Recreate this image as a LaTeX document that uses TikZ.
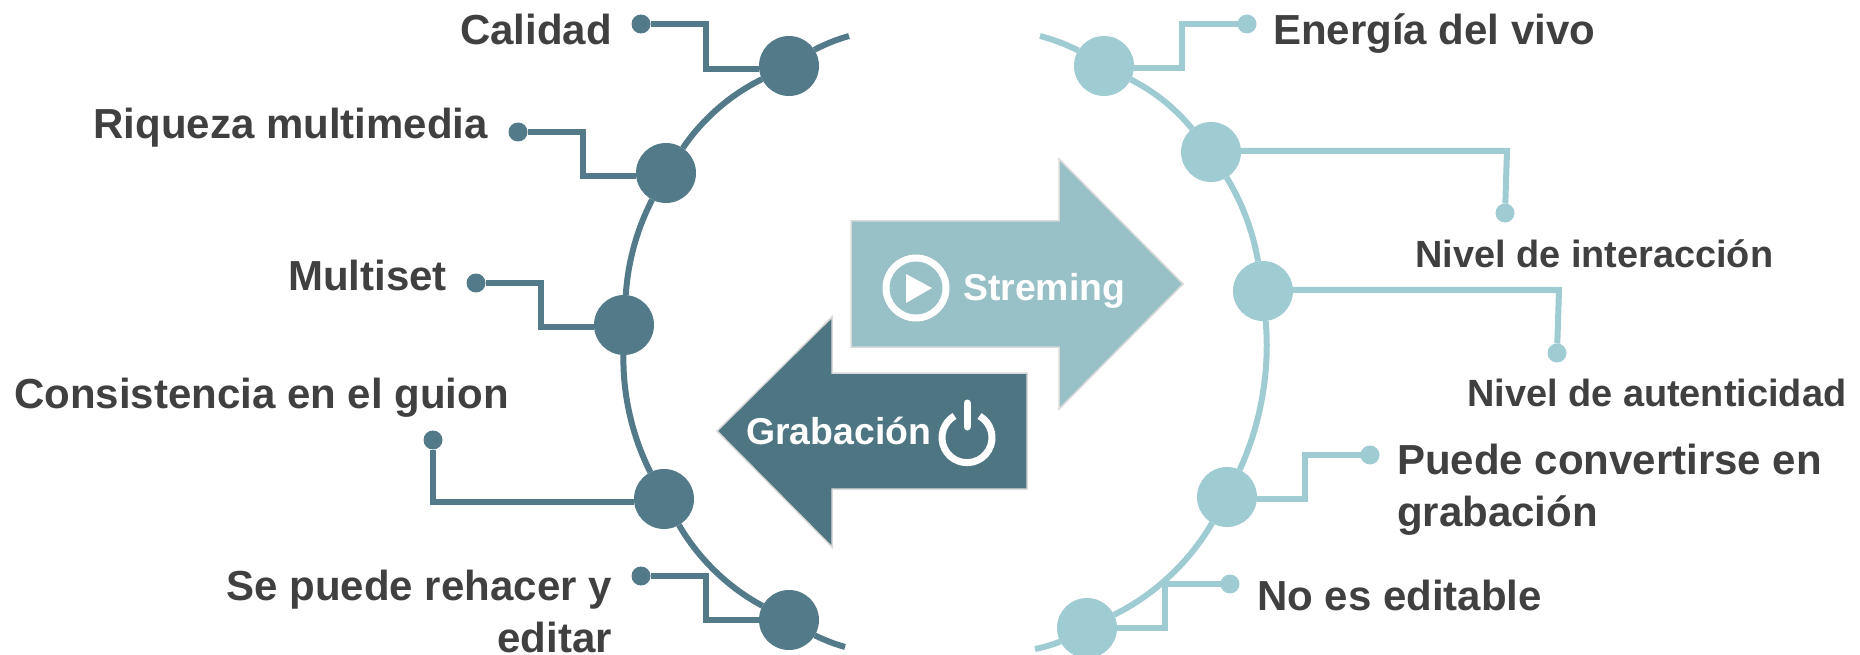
\documentclass[tikz,border=0pt]{standalone}
\usepackage{fontspec}
\setmainfont{Liberation Sans}
\definecolor{darkteal}{HTML}{527A89}
\definecolor{lightteal}{HTML}{9ECCD2}
\definecolor{darkarrow}{HTML}{4E7582}
\definecolor{lightarrow}{HTML}{97C0C7}
\definecolor{labelgrey}{HTML}{404040}
\tikzset{
  hub/.style={circle,minimum size=60pt,inner sep=0pt,outer sep=0pt},
  tip/.style={circle,minimum size=19pt,inner sep=0pt,outer sep=0pt},
  wire/.style={line width=6pt,line join=miter,looseness=.85},
  bigtxt/.style={inner sep=0pt,text=labelgrey,font=\fontsize{42}{52}\selectfont\bfseries},
  smalltxt/.style={inner sep=0pt,text=labelgrey,font=\fontsize{37.9}{46}\selectfont\bfseries},
  arrowtxt/.style={inner sep=0pt,text=white,font=\fontsize{37.4}{46}\selectfont\bfseries},
  bigarrow/.style={draw=black!15,line width=1.5pt,line join=miter},
}
\begin{document}
\begin{tikzpicture}[x=1pt,y=-1pt]
      \useasboundingbox (0,0) rectangle (1860,655);
      % arrows
      \draw[bigarrow,fill=lightarrow] (851,221) -- (1059,221) -- (1059,159) -- (1183,284)
        -- (1059,409) -- (1059,347) -- (851,347) -- cycle;
      \draw[bigarrow,fill=darkarrow] (1027,373) -- (832,373) -- (832,317) -- (717,431)
        -- (832,547) -- (832,489) -- (1027,489) -- cycle;
      \node[arrowtxt,anchor=base west] (streming) at (963,300) {Streming};
      \node[arrowtxt,anchor=base west] (grabacion) at (746,444) {Grabación};
      % play and power icons
      \node[circle,draw=white,line width=7pt,minimum size=60pt,inner sep=0pt] (play) at (916,288) {};
      \fill[white] (906,274) -- (932,288) -- (906,303) -- cycle;
      \draw[white,line width=7pt] (979.5,416) arc[start angle=60,end angle=-240,radius=25pt];
      \draw[white,line width=7pt,line cap=round] (967,403) -- (967,427);
      % left side
      \coordinate (ltop) at (849,36);
      \coordinate (lbot) at (845,647);
      \draw
        (789,66) node[hub,fill=darkteal] (l1){}
        (666,173) node[hub,fill=darkteal] (l2){}
        (624,325) node[hub,fill=darkteal] (l3){}
        (664,499) node[hub,fill=darkteal] (l4){}
        (789,620) node[hub,fill=darkteal] (l5){};
      \draw
        (641,24) node[tip,fill=darkteal] (a1){}
        (518,132) node[tip,fill=darkteal] (a2){}
        (476,283) node[tip,fill=darkteal] (a3){}
        (433,440) node[tip,fill=darkteal] (a4){}
        (641,576) node[tip,fill=darkteal] (a5){};
      \begin{scope}[wire,draw=darkteal]
        \draw (ltop) to[bend right=6] (l1);
        \draw (l1) to[bend right=15] (l2);
        \draw (l2) to[bend right=12] (l3);
        \draw (l3) to[bend right=14] (l4);
        \draw (l4) to[bend right=16] (l5);
        \draw (l5) to[bend right=5] (lbot);
        \draw (a1) -- (706,24) |- (l1.186);
        \draw (a2) -- (583,132) |- (l2.186);
        \draw (a3) -- (541,283) |- (l3.184);
        \draw (a4) |- (l4.186);
        \draw (a5) -- (706,576) |- (l5.west);
      \end{scope}
      % right side
      \coordinate (rtop) at (1040,36);
      \coordinate (rbot) at (1035,649);
      \draw
        (1104,66) node[hub,fill=lightteal] (r1){}
        (1211,152) node[hub,fill=lightteal] (r2){}
        (1263,291) node[hub,fill=lightteal] (r3){}
        (1227,497) node[hub,fill=lightteal] (r4){}
        (1087,628) node[hub,fill=lightteal] (r5){};
      \draw
        (1247,24) node[tip,fill=lightteal] (b1){}
        (1505,213) node[tip,fill=lightteal] (b2){}
        (1557,353) node[tip,fill=lightteal] (b3){}
        (1370,455) node[tip,fill=lightteal] (b4){}
        (1230,584) node[tip,fill=lightteal] (b5){};
      \begin{scope}[wire,draw=lightteal]
        \draw (rtop) to[bend left=6] (r1);
        \draw (r1) to[bend left=12] (r2);
        \draw (r2) to[bend left=11] (r3);
        \draw (r3) to[bend left=15] (r4);
        \draw (r4) to[bend left=17] (r5);
        \draw (r5) to[bend left=5] (rbot);
        \draw (b1) -- (1182,24) |- (r1.-4);
        \draw (r2.2) -- (1507,151) -- (b2);
        \draw (r3.2) -- (1559,290) -- (b3);
        \draw (b4) -- (1305,455) |- (r4.-4);
        \draw (b5) -- (1165,584) |- (r5.east);
      \end{scope}
      % labels
      \node[bigtxt,anchor=base east] (calidad) at (612,45) {Calidad};
      \node[bigtxt,anchor=base east] (riqueza) at (488,139) {Riqueza multimedia};
      \node[bigtxt,anchor=base east] (multiset) at (447,290) {Multiset};
      \node[bigtxt,anchor=base east] (guion) at (509,408) {Consistencia en el guion};
      \node[bigtxt,anchor=base east,align=right] (rehacer) at (612,652) {Se puede rehacer y\\editar};
      \node[bigtxt,anchor=base west] (energia) at (1273,45) {Energía del vivo};
      \node[smalltxt,anchor=base west] (interaccion) at (1415,267) {Nivel de interacción};
      \node[smalltxt,anchor=base west] (autenticidad) at (1467,406) {Nivel de autenticidad};
      \node[bigtxt,anchor=base west,align=left] (convertirse) at (1397,526) {Puede convertirse en\\grabación};
      \node[bigtxt,anchor=base west] (editable) at (1257,610) {No es editable};
\end{tikzpicture}
\end{document}
